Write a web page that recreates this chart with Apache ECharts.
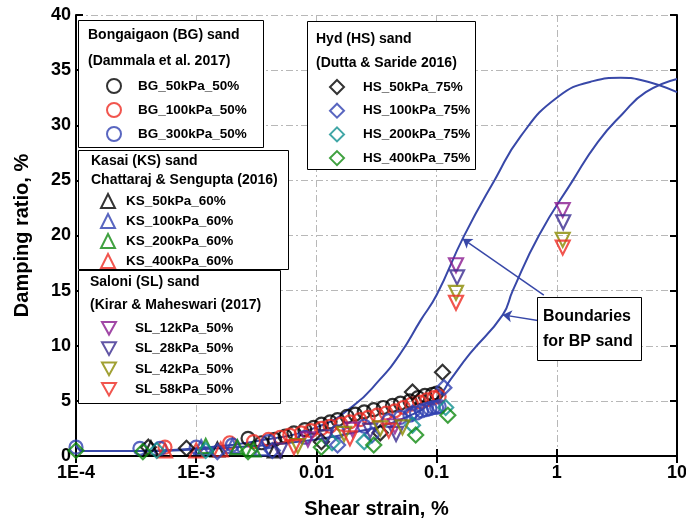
<!DOCTYPE html>
<html><head><meta charset="utf-8">
<script src="https://cdn.jsdelivr.net/npm/echarts@6/dist/echarts.min.js"></script>
<style>html,body{margin:0;padding:0;background:#fff}#c{width:686px;height:521px}</style>
</head><body><div id="c"></div>
<script>
const xTickLabels = ['1E-4','1E-3','0.01','0.1','1','10'];
// Boundaries for BP sand
const upperBoundary = [[1e-4,1.0],[1.15e-4,0.45],[3.5e-4,0.45],[1e-3,0.7],[3e-3,1.3],[0.01,2.6],[0.02,4.5],[0.0335,6.9],[0.05,9.3],[0.0736,12.3],[0.1,14.6],[0.168,19.9],[0.31,25.2],[0.5,29],[1,32.5],[2,34],[3.4,34.3],[5,34.1],[10,33]];
const lowerBoundary = [[1e-4,1.0],[1.15e-4,0.45],[3.5e-4,0.45],[1e-3,0.6],[3e-3,0.9],[0.01,1.5],[0.02,2.1],[0.05,3.3],[0.1,5.2],[0.13,6.9],[0.19,9.3],[0.355,12.8],[0.43,15],[0.71,20],[1.36,25],[2.2,28.5],[3.5,31],[5.5,33],[10,34.2]];
// Bongaigaon (BG) sand
const bg50 = [[0.0027,1.6],[0.0035,1.2],[0.0045,1.5],[0.0055,1.8],[0.0065,2.1],[0.008,2.4],[0.0095,2.6],[0.011,2.9],[0.013,3.1],[0.015,3.3],[0.018,3.6],[0.021,3.8],[0.025,4.0],[0.03,4.2],[0.036,4.4],[0.043,4.6],[0.05,4.8],[0.06,5.0],[0.07,5.3],[0.08,5.5],[0.092,5.6],[0.1,5.7]];
const bg100 = [[5.5e-4,0.8],[0.0019,1.2],[0.003,1.3],[0.004,1.5],[0.005,1.7],[0.006,1.9],[0.0075,2.1],[0.009,2.3],[0.011,2.5],[0.013,2.7],[0.016,2.9],[0.019,3.1],[0.023,3.3],[0.027,3.5],[0.032,3.7],[0.038,3.9],[0.045,4.1],[0.053,4.4],[0.062,4.7],[0.072,4.9],[0.083,5.1],[0.095,5.3],[0.105,5.4]];
const bg300 = [[1e-4,0.8],[3.4e-4,0.7],[5e-4,0.7],[0.001,0.8],[0.002,1.0],[0.004,1.3],[0.008,1.7],[0.015,2.2],[0.025,2.7],[0.04,3.2],[0.05,3.5],[0.06,3.7],[0.068,3.9],[0.075,4.1],[0.082,4.2],[0.088,4.3],[0.094,4.4],[0.1,4.4],[0.105,4.5]];
// Kasai (KS) sand
const ks50 = [[4.2e-4,0.7],[0.0015,0.6],[0.0045,0.5]];
const ks100 = [[0.0011,0.8],[0.002,0.9],[0.0035,0.7]];
const ks200 = [[0.0012,0.9],[0.0022,0.8],[0.003,0.6]];
const ks400 = [[5.5e-4,0.5],[0.001,0.5],[0.0016,0.6]];
// Hyd (HS) sand
const hs50 = [[4e-4,0.8],[8.3e-4,0.7],[0.011,1.3],[0.034,2.1],[0.063,5.8],[0.112,7.6]];
const hs100 = [[1.5e-3,0.4],[0.0043,0.5],[0.015,1.0],[0.029,1.9],[0.063,3.9],[0.115,6.2]];
const hs200 = [[4.7e-4,0.5],[0.0012,0.5],[0.0135,1.2],[0.025,1.3],[0.063,2.8],[0.119,4.4]];
const hs400 = [[1e-4,0.5],[3.6e-4,0.4],[0.0027,0.4],[0.011,0.8],[0.03,1.0],[0.067,1.9],[0.124,3.7]];
// Saloni (SL) sand
const sl12 = [[0.0085,1.5],[0.02,2.4],[0.045,2.7],[0.145,17.3],[1.12,22.3]];
const sl28 = [[0.005,0.5],[0.012,1.7],[0.028,2.3],[0.046,2.0],[0.148,16.2],[1.13,21.2]];
const sl42 = [[0.007,0.9],[0.017,2.0],[0.034,2.5],[0.052,2.6],[0.145,14.8],[1.12,19.6]];
const sl58 = [[0.0065,0.8],[0.019,1.6],[0.04,2.3],[0.145,13.9],[1.12,18.9]];

const FONT = '"Liberation Sans", Arial, sans-serif';
const C = {black:'#000000', red:'#ee2a22', blue:'#3040b0', green:'#108a10', teal:'#109090', olive:'#8a8a00', purple:'#8a1a90', indigo:'#3a2a90', curve:'#3848a8'};
const DOWN = 'path://M0,0L20,0L10,18Z';

function sc(name, data, symbol, color, size) {
  return {name, type:'scatter', data, symbol, symbolSize:size,
    itemStyle:{color:'rgba(255,255,255,0)', borderColor:color, borderWidth:2.2}, z:3, silent:true};
}

const series = [
  {name:'upper', type:'line', data:upperBoundary, smooth:true, showSymbol:false, symbol:'none', lineStyle:{color:C.curve, width:2}, z:2, silent:true,
    markLine:{silent:true, symbol:['none','arrow'], symbolSize:9, label:{show:false}, lineStyle:{color:C.curve, width:1.5, type:'solid'},
      data:[[{coord:[0.78,14.6]},{coord:[0.165,19.7]}],[{coord:[0.695,12.3]},{coord:[0.355,12.8]}]]}},
  {name:'lower', type:'line', data:lowerBoundary, smooth:true, showSymbol:false, symbol:'none', lineStyle:{color:C.curve, width:2}, z:2, silent:true},
  sc('BG_50kPa_50%', bg50, 'circle', C.black, 13),
  sc('BG_100kPa_50%', bg100, 'circle', C.red, 13),
  sc('BG_300kPa_50%', bg300, 'circle', C.blue, 13),
  sc('KS_50kPa_60%', ks50, 'triangle', C.black, 14),
  sc('KS_100kPa_60%', ks100, 'triangle', C.blue, 14),
  sc('KS_200kPa_60%', ks200, 'triangle', C.green, 14),
  sc('KS_400kPa_60%', ks400, 'triangle', C.red, 14),
  sc('HS_50kPa_75%', hs50, 'diamond', C.black, 15),
  sc('HS_100kPa_75%', hs100, 'diamond', C.blue, 15),
  sc('HS_200kPa_75%', hs200, 'diamond', C.teal, 15),
  sc('HS_400kPa_75%', hs400, 'diamond', C.green, 15),
  sc('SL_12kPa_50%', sl12, DOWN, C.purple, 14),
  sc('SL_28kPa_50%', sl28, DOWN, C.indigo, 14),
  sc('SL_42kPa_50%', sl42, DOWN, C.olive, 14),
  sc('SL_58kPa_50%', sl58, DOWN, C.red, 14)
];

function lg(names, left, top, spacer, gap) {
  return {data:names, orient:'vertical', left, top, itemWidth:14, itemHeight:14, itemGap:gap, z:11,
    selectedMode:false, padding:0, formatter:'{s|}{name}',
    itemStyle:{borderWidth:2},
    textStyle:{fontSize:13.5, fontWeight:'bold', fontFamily:FONT, color:'#000', lineHeight:14,
      rich:{s:{width:spacer, height:14, lineHeight:14}}}};
}

const boxes = [[78,20,185,127],[78,150,210,119],[78,270,202,133],[307,21,168,148],[537,297,104,63]];
const headers = [
  ['Bongaigaon (BG) sand',88,35],['(Dammala et al. 2017)',88,61],
  ['Kasai (KS) sand',91,161],['Chattaraj & Sengupta (2016)',91,180],
  ['Saloni (SL) sand',90,282],['(Kirar & Maheswari (2017)',90,305],
  ['Hyd (HS) sand',316,39],['(Dutta & Saride 2016)',316,63]
];
const graphic = [];
boxes.forEach(b=>graphic.push({type:'rect', z:10, shape:{x:b[0]+0.5,y:b[1]+0.5,width:b[2],height:b[3]}, style:{fill:'#fff', stroke:'#000', lineWidth:1}}));
headers.forEach(h=>graphic.push({type:'text', z:12, style:{text:h[0], x:h[1], y:h[2], font:'bold 14px '+FONT, fill:'#000', verticalAlign:'middle'}}));
graphic.push({type:'text', z:12, style:{text:'Boundaries', x:543, y:317, font:'bold 16px '+FONT, fill:'#000', verticalAlign:'middle'}});
graphic.push({type:'text', z:12, style:{text:'for BP sand', x:543, y:342, font:'bold 16px '+FONT, fill:'#000', verticalAlign:'middle'}});

const axisLineStyle = {color:'#000', width:2};
const splitStyle = {color:'#b8b8b8', width:1, type:[7,3,2,3]};
const option = {
  animation:false,
  grid:{left:76, right:9, top:15, bottom:65, containLabel:false, outerBoundsMode:'none'},
  xAxis:[
    {type:'log', logBase:10, min:1e-4, max:10, interval:1, position:'bottom',
     axisLine:{lineStyle:axisLineStyle}, axisTick:{inside:true, length:7, lineStyle:{color:'#000', width:2}},
     minorTick:{show:false}, minorSplitLine:{show:false},
     axisLabel:{margin:8, fontSize:18, fontWeight:'bold', fontFamily:FONT, color:'#000',
       formatter:v=>xTickLabels[Math.round(Math.log10(v))+4]},
     splitLine:{show:true, lineStyle:splitStyle},
     name:'Shear strain, %', nameLocation:'middle', nameGap:43,
     nameTextStyle:{fontSize:20, fontWeight:'bold', fontFamily:FONT, color:'#000'}},
    {type:'log', logBase:10, min:1e-4, max:10, interval:1, position:'top',
     axisLine:{lineStyle:axisLineStyle}, axisTick:{inside:true, length:7, lineStyle:{color:'#000', width:2}},
     axisLabel:{show:false}, splitLine:{show:false}}
  ],
  yAxis:[
    {type:'value', min:0, max:40, interval:5, position:'left',
     axisLine:{show:true, lineStyle:axisLineStyle}, axisTick:{show:true, inside:true, length:7, lineStyle:{color:'#000', width:2}},
     axisLabel:{margin:5, fontSize:18, fontWeight:'bold', fontFamily:FONT, color:'#000'},
     splitLine:{show:true, lineStyle:splitStyle},
     name:'Damping ratio, %', nameLocation:'middle', nameGap:44, nameRotate:90,
     nameTextStyle:{fontSize:20, fontWeight:'bold', fontFamily:FONT, color:'#000'}},
    {type:'value', min:0, max:40, interval:5, position:'right',
     axisLine:{show:true, lineStyle:axisLineStyle}, axisTick:{show:true, inside:true, length:7, lineStyle:{color:'#000', width:2}},
     axisLabel:{show:false}, splitLine:{show:false}}
  ],
  legend:[
    lg(['BG_50kPa_50%','BG_100kPa_50%','BG_300kPa_50%'], 106, 78, 12, 8),
    lg(['KS_50kPa_60%','KS_100kPa_60%','KS_200kPa_60%','KS_400kPa_60%'], 100, 193, 6, 4),
    lg(['SL_12kPa_50%','SL_28kPa_50%','SL_42kPa_50%','SL_58kPa_50%'], 101, 321, 14, 5.7),
    lg(['HS_50kPa_75%','HS_100kPa_75%','HS_200kPa_75%','HS_400kPa_75%'], 329, 79, 14, 7.7)
  ],
  graphic:{elements:graphic},
  series
};
const chart = echarts.init(document.getElementById('c'), null, {renderer:'canvas'});
chart.setOption(option);
</script></body></html>
